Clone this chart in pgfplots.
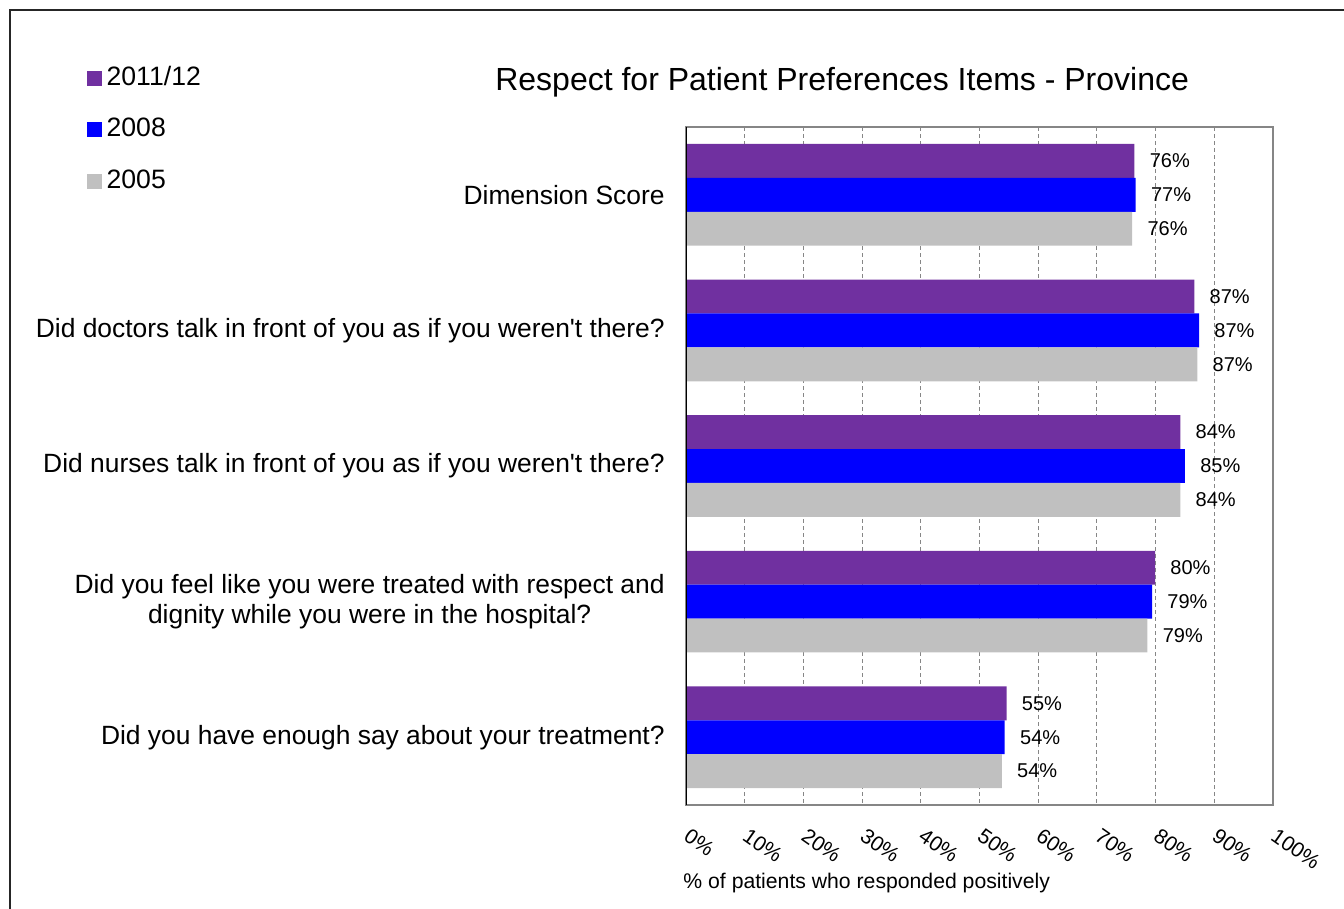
\documentclass[border=0pt]{standalone}
\usepackage{pgfplots}
\pgfplotsset{compat=1.18}
\usepackage{pgfplotstable}
\usepackage{fontspec}
\setmainfont{Liberation Sans}

\definecolor{cPurple}{HTML}{7030A0}
\definecolor{cBlue}{HTML}{0000FF}
\definecolor{cGrey}{HTML}{C0C0C0}
\definecolor{cAxis}{HTML}{868686}

% category index, then one column per survey year
\pgfplotstableread{
cat y2011 y2008 y2005
0 76.4 76.6 76.0
1 86.6 87.4 87.1
2 84.2 85.0 84.2
3 79.9 79.4 78.6
4 54.6 54.3 53.8
}\resp

\begin{document}
\begin{tikzpicture}
\useasboundingbox (0,0) rectangle (672pt,-454.5pt);
\draw[line width=1pt, black!85] (5pt,-480pt) -- (5pt,-5pt) -- (700pt,-5pt);
\begin{axis}[
  at={(343pt,-63.5pt)}, anchor=north west,
  width=293.5pt, height=339pt, scale only axis,
  xbar, bar width=0.25,
  xmin=0, xmax=100, ymin=-0.5, ymax=4.5, y dir=reverse,
  xtick={0,10,...,100},
  xticklabels={0\%,10\%,20\%,30\%,40\%,50\%,60\%,70\%,80\%,90\%,100\%},
  ytick={0,1,2,3,4},
  yticklabels={Dimension Score,
    Did doctors talk in front of you as if you weren\textquotesingle t there?,
    Did nurses talk in front of you as if you weren\textquotesingle t there?,
    {Did you feel like you were treated with respect and\\dignity while you were in the hospital?},
    Did you have enough say about your treatment?},
  yticklabel style={align=center, anchor=east, inner sep=0pt, xshift=-10.5pt,
    font=\fontsize{13.2}{15}\selectfont},
  xticklabel style={yshift=-11pt, xshift=2.5pt, rotate=-35, anchor=north west,
    inner sep=0pt, font=\fontsize{10.5}{12}\selectfont},
  major tick length=0pt,
  xmajorgrids,
  grid style={cAxis, line width=0.5pt, dash pattern=on 2pt off 1.5pt},
  axis line style={cAxis, line width=0.7pt},
  point meta=x,
  nodes near coords={\pgfmathprintnumber[fixed,precision=0,assume math mode=true]{\pgfplotspointmeta}\%},
  nodes near coords style={anchor=west, inner sep=0pt, xshift=7.5pt,
    font=\fontsize{10}{12}\selectfont},
  title={Respect for Patient Preferences Items - Province},
  title style={at={(0.266,1.049)}, anchor=center, inner sep=0pt,
    font=\fontsize{16}{19}\selectfont},
  xlabel={\% of patients who responded positively},
  xlabel style={at={(-0.005,-0.115)}, anchor=west, inner sep=0pt,
    font=\fontsize{10.6}{12}\selectfont},
  legend style={at={(-1.021,1.09)}, anchor=north west, draw=none, fill=none,
    inner sep=0pt, row sep=13.75pt,
    nodes={inner sep=0pt, text height=9.5pt, text depth=2.5pt},
    font=\fontsize{13.3}{15}\selectfont},
  legend cell align=left,
  legend image code/.code={\fill[#1, draw=none] (0pt,-3.75pt) rectangle (7.5pt,3.75pt);
    \path (9.8pt,0pt);},
]
\addplot[fill=cPurple, draw=none, bar shift=-0.25] table[x=y2011, y=cat] {\resp};
\addplot[fill=cBlue, draw=none, bar shift=0] table[x=y2008, y=cat] {\resp};
\addplot[fill=cGrey, draw=none, bar shift=0.25] table[x=y2005, y=cat] {\resp};
\legend{2011/12, 2008, 2005}
\draw[black, line width=0.8pt] (axis cs:0,-0.5) -- (axis cs:0,4.5);
\end{axis}
\end{tikzpicture}
\end{document}
